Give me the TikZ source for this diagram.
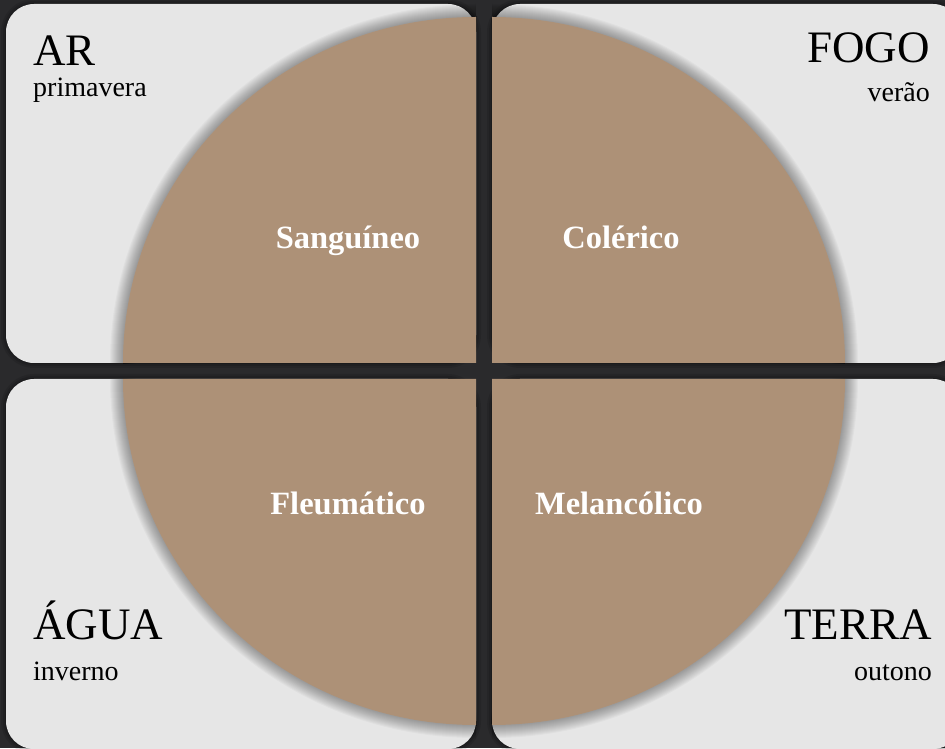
\documentclass[tikz,border=0pt]{standalone}
\usepackage{fontspec}
\setmainfont{Liberation Serif}
\definecolor{bgdark}{HTML}{2A2A2C}
\definecolor{panel}{HTML}{E6E6E6}
\definecolor{humor}{HTML}{AD9177}
\tikzset{
  panelbox/.style={fill=panel, rounded corners=28pt},
  sector/.style={fill=humor},
  elem/.style={inner sep=0pt, font=\fontsize{45}{50}\selectfont, text=black},
  season/.style={inner sep=0pt, font=\fontsize{28}{32}\selectfont, text=black},
  humorlabel/.style={inner sep=0pt, anchor=base, font=\fontsize{32.5}{36}\selectfont\bfseries, text=white},
}
\newcommand{\arcshadow}[1]{%
  \foreach \w in {2,4,...,26}{%
    \draw[line width=\w pt, black, opacity=0.028, line cap=butt] #1;}%
}
\begin{document}
\begin{tikzpicture}[x=1pt,y=1pt]
\fill[bgdark] (0,0) rectangle (945,748);
\useasboundingbox (0,0) rectangle (945,748);
% panel shadows
\foreach \w/\o in {10/0.10,6/0.12,2/0.15}{
  \draw[line width=\w pt, black, opacity=\o, rounded corners=28pt] (6,385) rectangle (476,744);
  \draw[line width=\w pt, black, opacity=\o, rounded corners=28pt] (492,385) rectangle (961,744);
  \draw[line width=\w pt, black, opacity=\o, rounded corners=28pt] (6,-1) rectangle (476,369);
  \draw[line width=\w pt, black, opacity=\o, rounded corners=28pt] (492,-1) rectangle (961,369);
}
% panels
\path[panelbox] (6,385) rectangle (476,744);
\path[panelbox] (492,385) rectangle (961,744);
\path[panelbox] (6,-1) rectangle (476,369);
\path[panelbox] (492,-1) rectangle (961,369);
% sector shadows (along the arcs only)
\arcshadow{(476,731) arc[start angle=90, end angle=180, x radius=353, y radius=346]}
\arcshadow{(845,385) arc[start angle=0, end angle=90, x radius=353, y radius=346]}
\arcshadow{(123,369) arc[start angle=180, end angle=270, x radius=353, y radius=346]}
\arcshadow{(492,23) arc[start angle=270, end angle=360, x radius=353, y radius=346]}
% sectors
\fill[sector] (476,385) -- ++(0,346) arc[start angle=90, end angle=180, x radius=353, y radius=346] -- cycle;
\fill[sector] (492,385) -- ++(353,0) arc[start angle=0, end angle=90, x radius=353, y radius=346] -- cycle;
\fill[sector] (476,369) -- ++(-353,0) arc[start angle=180, end angle=270, x radius=353, y radius=346] -- cycle;
\fill[sector] (492,369) -- ++(0,-346) arc[start angle=270, end angle=360, x radius=353, y radius=346] -- cycle;
% element and season labels
\node[elem, anchor=base west] (ar) at (33,682) {AR};
\node[season, anchor=base west] (prim) at (33,651) {primavera};
\node[elem, anchor=base east] (fogo) at (930,685) {FOGO};
\node[season, anchor=base east] (verao) at (930,646) {verão};
\node[elem, anchor=base west] (agua) at (33,109) {ÁGUA};
\node[season, anchor=base west] (inverno) at (33,68) {inverno};
\node[elem, anchor=base east] (terra) at (932,109) {TERRA};
\node[season, anchor=base east] (outono) at (932,68) {outono};
% humor labels
\node[humorlabel] (sang) at (348,499) {Sanguíneo};
\node[humorlabel] (cole) at (621,499) {Colérico};
\node[humorlabel] (fleu) at (348,234) {Fleumático};
\node[humorlabel] (mela) at (619,234) {Melancólico};
\end{tikzpicture}
\end{document}
